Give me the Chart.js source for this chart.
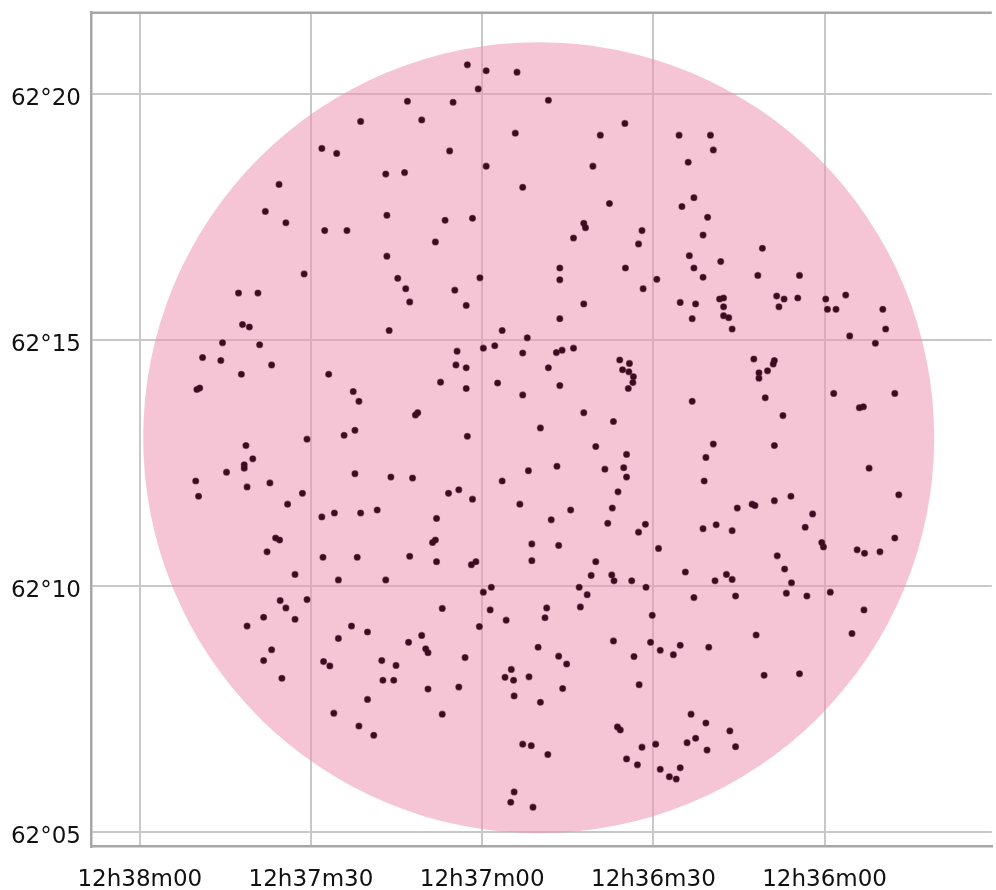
<!DOCTYPE html>
<html>
<head>
<meta charset="utf-8">
<title>Field stars</title>
<script src="https://cdn.jsdelivr.net/npm/chart.js@4.4.1/dist/chart.umd.min.js"></script>
<style>
  html, body { margin: 0; padding: 0; background: #fff; }
  #wrap { width: 996px; height: 890px; }
</style>
</head>
<body>
<div id="wrap"><canvas id="sky" width="996" height="890"></canvas></div>
<script>
// ─── Data ─────────────────────────────────────────────────
// RA in seconds after 12h36m00 (grows to the left), Dec in arcmin above +62°
const raTicks = [0, 30, 60, 90, 120];
const raLabels = ['12h36m00', '12h36m30', '12h37m00', '12h37m30', '12h38m00'];
const decTicks = [5, 10, 15, 20];
const decLabels = ['62°05', '62°10', '62°15', '62°20'];
const raRange = [-29.3, 128.55];
const decRange = [4.70, 21.65];

// circular field of view
const fieldCenter = [50.1, 13.01];
const fieldRadius = 8.04;

const starRa = [
  73.1, 81.3, 88.1, 85.5, 76.9, 73.6, 95.6, 98.0, 94.4, 76.7,
  87.6, 83.7, 76.7, 91.2, 74.8, 73.4, 102.7, 99.3, 72.7, 62.6,
  59.3, 53.9, 60.7, 65.1, 48.4, 70.6, 35.0, 54.2, 39.3, 25.5,
  65.7, 59.3, 40.6, 52.9, 37.7, 66.5, 61.7, 42.2, 41.9, 32.0,
  68.2, 44.0, 32.6, 46.4, 46.4, 34.9, 60.4, 29.4, 64.8, 31.8,
  62.8, 42.2, 20.0, 19.5, 23.9, 22.9, 25.0, 20.5, 21.3, 23.7,
  22.9, 21.3, 18.2, 10.9, 11.7, 4.4, 25.3, 22.6, 18.4, 17.7,
  17.7, 8.4, 7.1, 8.0, 4.7, -0.2, -3.7, -0.5, -2.0, -10.2,
  23.2, 17.7, 16.8, 16.2, -10.7, -4.4, -8.9, 12.4, 8.8, 9.0,
  11.5, 11.5, 10.0, 23.2, 10.4, 7.3, -1.6, -6.1, -6.8, -12.3,
  19.5, 20.8, 21.1, 8.8, -7.8, -13.0, 5.9, 8.8, 15.3, 12.7,
  12.2, 2.1, 3.4, 21.3, 19.0, 16.2, 0.5, 0.2, -12.3, -5.7,
  -7.0, -9.7, 8.3, 7.0, 24.4, 17.2, 102.0, 100.8, 76.3, 105.5,
  99.0, 109.0, 105.8, 96.9, 102.2, 86.9, 110.0, 109.5, 82.6, 81.6,
  84.2, 82.3, 90.7, 101.4, 100.2, 101.7, 101.7, 104.8, 110.2, 109.7,
  101.2, 97.2, 91.5, 94.1, 82.3, 76.0, 88.1, 85.9, 81.3, 78.4,
  96.2, 95.5, 97.7, 87.9, 81.9, 92.8, 72.7, 46.4, 56.5, 52.1,
  59.8, 57.8, 64.4, 52.9, 47.0, 46.0, 44.0, 64.6, 62.8, 48.4,
  35.9, 34.2, 35.4, 34.3, 33.5, 33.6, 34.4, 67.3, 57.3, 62.8,
  46.4, 52.9, 42.2, 37.0, 71.7, 71.3, 49.8, 62.6, 40.1, 34.7,
  46.9, 51.9, 38.5, 35.2, 34.7, 72.2, 56.5, 65.9, 64.1, 61.7,
  36.2, 53.4, 44.5, 37.2, 68.0, 47.9, 38.0, 31.4, 32.6, 68.7,
  68.2, 51.3, 46.6, 29.1, 68.0, 61.9, 61.1, 51.3, 40.1, 85.2,
  76.9, 95.4, 94.4, 90.7, 98.3, 92.8, 101.2, 82.9, 80.1, 85.2,
  72.9, 96.9, 98.3, 87.8, 86.7, 77.6, 75.1, 77.4, 75.5, 95.1,
  80.1, 86.0, 81.6, 79.0, 40.9, 37.3, 36.9, 33.8, 31.3, 58.4,
  59.8, 43.0, 41.6, 42.8, 67.0, 58.6, 48.7, 49.0, 55.8, 30.2,
  60.5, 70.6, 69.9, 69.5, 63.0, 50.2, 46.6, 45.2, 37.0, 30.5,
  28.8, 26.5, 33.4, 54.9, 56.0, 54.5, 51.8, 54.4, 49.8, 45.9,
  69.5, 64.1, 67.0, 32.5, 36.3, 35.8, 52.9, 51.4, 48.5, 32.0,
  29.6, 34.7, 32.8, 28.8, 27.2, 26.0, 54.4, 55.0, 51.1, 19.2,
  16.2, 5.8, 6.7, 3.1, -1.0, 22.9, 15.6, -6.9, -4.8, 12.0,
  25.3, 20.3, 10.6, 4.4, 23.4, 20.8, 16.6, 15.6, 24.1, 22.6,
  20.6, 25.3
];

const starDec = [
  19.85, 19.44, 18.89, 18.79, 18.37, 18.40, 18.16, 17.61, 17.38, 17.53,
  17.22, 17.22, 16.70, 16.34, 16.25, 16.04, 15.95, 15.95, 15.77, 20.59,
  20.47, 20.44, 20.10, 19.83, 19.87, 19.47, 19.40, 19.20, 19.16, 19.16,
  18.84, 18.53, 18.53, 18.10, 17.77, 17.43, 17.47, 17.37, 17.28, 17.22,
  16.99, 17.07, 16.95, 16.46, 16.22, 16.46, 16.26, 16.23, 16.01, 16.04,
  15.70, 15.73, 19.16, 18.86, 18.61, 17.89, 17.71, 17.49, 17.13, 16.71,
  16.46, 16.27, 16.59, 16.86, 16.31, 16.31, 15.76, 15.73, 15.83, 15.85,
  15.67, 15.89, 15.83, 15.67, 15.85, 15.83, 15.91, 15.62, 15.62, 15.62,
  15.43, 15.49, 15.45, 15.22, 15.22, 15.08, 14.93, 14.61, 14.58, 14.51,
  14.33, 14.22, 14.37, 13.75, 13.82, 13.46, 13.91, 13.62, 13.64, 13.91,
  12.88, 12.61, 12.13, 12.85, 12.39, 11.85, 11.82, 11.73, 11.58, 11.66,
  11.63, 11.46, 11.19, 11.16, 11.24, 11.12, 10.88, 10.79, 10.97, 10.73,
  10.66, 10.69, 10.61, 10.34, 10.28, 10.23, 15.31, 15.26, 15.19, 14.94,
  14.90, 14.64, 14.58, 14.49, 14.30, 14.30, 13.99, 14.02, 13.95, 13.75,
  13.06, 13.16, 12.98, 12.85, 12.58, 12.46, 12.39, 12.31, 12.13, 11.82,
  12.01, 12.09, 11.88, 11.66, 12.28, 12.21, 11.40, 11.48, 11.48, 11.54,
  10.97, 10.93, 10.69, 10.58, 10.58, 10.23, 10.60, 15.43, 15.19, 15.04,
  14.83, 14.88, 14.77, 14.73, 14.74, 14.79, 14.83, 14.49, 14.43, 14.43,
  14.59, 14.52, 14.39, 14.35, 14.25, 14.13, 14.01, 14.14, 14.12, 14.01,
  14.07, 13.88, 13.52, 13.34, 13.47, 13.52, 13.21, 13.04, 12.83, 12.67,
  12.43, 12.34, 12.37, 12.40, 12.21, 12.19, 12.13, 11.88, 11.95, 11.76,
  11.91, 11.66, 11.54, 11.58, 11.37, 11.34, 11.27, 11.25, 11.09, 10.88,
  10.93, 10.85, 10.82, 10.76, 10.49, 10.43, 10.49, 10.51, 10.49, 10.12,
  10.12, 9.70, 9.55, 9.72, 9.36, 9.32, 9.18, 9.18, 9.06, 8.93,
  8.85, 8.70, 8.48, 8.46, 8.37, 8.48, 8.38, 8.08, 8.08, 8.12,
  7.69, 7.41, 7.15, 6.96, 10.21, 10.22, 10.10, 10.10, 9.97, 9.97,
  9.87, 9.97, 9.82, 9.57, 9.54, 9.51, 9.55, 9.35, 9.30, 9.40,
  9.17, 8.99, 8.72, 8.64, 8.54, 8.75, 8.57, 8.41, 8.88, 8.85,
  8.69, 8.60, 8.56, 8.30, 8.14, 8.08, 8.15, 7.76, 7.63, 7.91,
  7.90, 7.94, 7.39, 7.99, 7.13, 7.07, 6.78, 6.75, 6.57, 6.72,
  6.78, 6.48, 6.36, 6.27, 6.12, 6.07, 5.81, 5.60, 5.50, 10.10,
  10.13, 10.06, 9.85, 9.79, 9.87, 9.76, 9.79, 9.51, 9.03, 9.00,
  8.79, 8.75, 8.18, 8.21, 7.39, 7.21, 7.05, 6.73, 6.81, 6.90,
  6.66, 6.30
];

// ─── Plugins ──────────────────────────────────────────────
const fieldCircle = {
  id: 'fieldCircle',
  beforeDatasetsDraw(chart) {
    const { ctx, chartArea: a, scales: { x, y } } = chart;
    const cx = x.getPixelForValue(fieldCenter[0]);
    const cy = y.getPixelForValue(fieldCenter[1]);
    const r = Math.abs(y.getPixelForValue(fieldCenter[1] + fieldRadius) - cy);
    ctx.save();
    ctx.beginPath();
    ctx.rect(a.left, a.top, a.width, a.height);
    ctx.clip();
    ctx.beginPath();
    ctx.arc(cx, cy, r, 0, Math.PI * 2);
    ctx.fillStyle = 'rgba(236,150,178,0.55)';
    ctx.fill();
    ctx.restore();
  },
  afterDraw(chart) {
    // top frame line
    const { ctx, chartArea: a } = chart;
    ctx.save();
    ctx.strokeStyle = '#a6a6a6';
    ctx.lineWidth = 2.5;
    ctx.beginPath();
    ctx.moveTo(a.left - 1, a.top);
    ctx.lineTo(a.right, a.top);
    ctx.stroke();
    ctx.restore();
  }
};

// ─── Chart ────────────────────────────────────────────────
const labelFont = { family: '"DejaVu Sans", sans-serif', size: 23 };

new Chart(document.getElementById('sky'), {
  type: 'scatter',
  data: {
    datasets: [{
      data: starRa.map((ra, i) => ({ x: ra, y: starDec[i] })),
      pointRadius: 3,
      pointBorderWidth: 1.2,
      backgroundColor: '#3a0c20',
      borderColor: 'rgba(70,15,35,0.55)',
      pointHoverRadius: 3
    }]
  },
  options: {
    responsive: false,
    animation: false,
    events: [],
    layout: { padding: { top: 12.7, right: 0, left: 0, bottom: 0 } },
    plugins: { legend: { display: false }, tooltip: { enabled: false } },
    scales: {
      x: {
        type: 'linear',
        reverse: true,
        min: raRange[0],
        max: raRange[1],
        afterBuildTicks: s => { s.ticks = raTicks.map(v => ({ value: v })); },
        afterFit: s => { s.height = 43.5; s.paddingLeft = 0; s.paddingRight = 0; },
        grid: { color: '#c8c8c8', lineWidth: 2, drawTicks: false },
        border: { color: '#a6a6a6', width: 2.5 },
        ticks: {
          padding: 20,
          maxRotation: 0,
          font: labelFont,
          color: '#111',
          callback: v => raLabels[raTicks.indexOf(v)]
        }
      },
      y: {
        type: 'linear',
        min: decRange[0],
        max: decRange[1],
        afterBuildTicks: s => { s.ticks = decTicks.map(v => ({ value: v })); },
        afterFit: s => { s.width = 91; s.paddingTop = 0; s.paddingBottom = 0; },
        grid: { color: '#c8c8c8', lineWidth: 2, drawTicks: false },
        border: { color: '#a6a6a6', width: 2.5 },
        ticks: {
          padding: 10,
          labelOffset: 5,
          font: labelFont,
          color: '#111',
          callback: v => decLabels[decTicks.indexOf(v)]
        }
      }
    }
  },
  plugins: [fieldCircle]
});
</script>
</body>
</html>
